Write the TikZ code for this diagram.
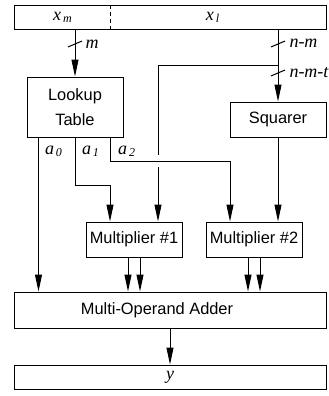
\documentclass[tikz,border=0pt]{standalone}
\usepackage{fontspec}
\setmainfont{Liberation Sans}
\newfontfamily\tms{Liberation Serif}
\usetikzlibrary{calc, positioning, arrows.meta}
\tikzset{
    block/.style={rectangle, draw=black, fill=white, align=center, minimum width=48pt, minimum height=17.5pt, inner sep=0pt, font=\fontsize{8.2}{12.5}\selectfont},
    reg/.style={rectangle, draw=black, minimum width=156pt, minimum height=12pt, inner sep=0pt},
    arrow/.style={-{Triangle[length=8.5pt, width=3.5pt]}},
    label/.style={font=\fontsize{9}{10}\selectfont\tms\itshape, inner sep=0pt},
    busmark/.style={line width=0.5pt}
}

\begin{document}
\begin{tikzpicture}[x=0.5pt, y=-0.5pt, line width=0.5pt]
        \useasboundingbox (0,0) rectangle (328,396);

        % Registers
        \node[reg] (xin) at (170,17) {};
        \node[reg] (yout) at (170,377) {};
        \draw[dash pattern=on 2pt off 1.5pt] (110,0 |- xin.north) -- (110,0 |- xin.south);
        \node[label] (xm) at (63,17) {x\textsubscript{\,m}};
        \node[label] (xl) at (213,17) {x\textsubscript{\,l}};
        \node[label] (y) at (170,377) {y};

        % Blocks
        \node[block, minimum height=30pt] (lut) at (75,107) {Lookup\\Table};
        \node[block] (sq) at (278,119.5) {Squarer};
        \node[block] (mult1) at (134,239.5) {Multiplier \#1};
        \node[block] (mult2) at (254,239.5) {Multiplier \#2};
        \node[block, minimum width=156pt, minimum height=18pt] (adder) at (170,310) {};
        \node[block, draw=none, fill=none] (addtxt) at (157,310) {Multi-Operand Adder};

        % Helper points
        \coordinate (tap) at (278,65);
        \coordinate (gapT) at (158,155);
        \coordinate (gapB) at (158,167);
        \coordinate (a0) at ($(lut.south west)+(12,0)$);
        \coordinate (a2) at ($(lut.south east)+(-13,0)$);
        \coordinate (m1a) at ($(mult1.north)+(-24,0)$);
        \coordinate (m1b) at ($(mult1.north)+(24,0)$);
        \coordinate (m2a) at ($(mult2.north)+(-24,0)$);
        \coordinate (m2b) at ($(mult2.north)+(24,0)$);

        % Inputs
        \draw[arrow] (lut |- xin.south) -- (lut.north);
        \draw[arrow] (sq |- xin.south) -- (sq.north);
        \draw (tap) -| (gapT);
        \draw[arrow] (gapB) -- (m1b);

        % Bus widths
        \draw[busmark] (75,44) ++(-7,3) -- ++(14,-6);
        \draw[busmark] (278,44) ++(-7,3) -- ++(14,-6);
        \draw[busmark] (278,73) ++(-7,3) -- ++(14,-6);
        \node[label] (wm) at (92,44) {m};
        \node[label, anchor=west] (wnm) at (289,43) {n-m};
        \node[label, anchor=west] (wnmt) at (289,73) {n-m-t};

        % Coefficients
        \draw[arrow] (a0) -- (a0 |- adder.north);
        \draw[arrow] (lut.south) -- ++(0,48) -| (m1a);
        \draw[arrow] (a2) -- ++(0,24) -| (m2a);
        \draw[arrow] (sq.south) -- (m2b);
        \node[label] (la0) at (54,151) {a\textsubscript{\,0}};
        \node[label] (la1) at (91,151) {a\textsubscript{\,1}};
        \node[label] (la2) at (127,151) {a\textsubscript{\,2}};

        % Products
        \foreach \m in {mult1, mult2} {
            \foreach \dx in {-6, 6} {
                \coordinate (o) at ($(\m.south)+(\dx,0)$);
                \draw[arrow] (o) -- (o |- adder.north);
            }
        }
        \draw[arrow] (adder) -- (yout);
    \end{tikzpicture}
\end{document}
